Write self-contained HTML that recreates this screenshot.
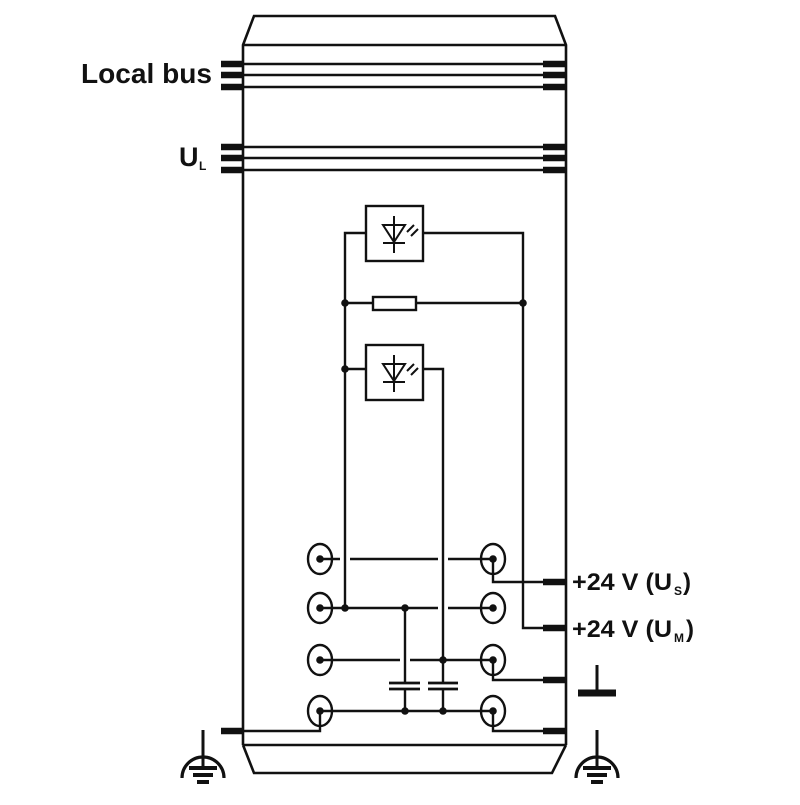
<!DOCTYPE html>
<html><head><style>
body{margin:0;background:#fff;}
svg text{font-family:"Liberation Sans",Arial,sans-serif;font-weight:bold;fill:#111;}
</style></head><body>
<svg width="800" height="800" viewBox="0 0 800 800" xmlns="http://www.w3.org/2000/svg">
<g stroke="#111" stroke-width="2.6" fill="none">
<polyline points="243,745 243,45 254,16 555,16 566,45 566,745"/>
<line x1="243" y1="45" x2="566" y2="45"/>
<polyline points="243,745 254,773 552,773 566,745"/>
<line x1="243" y1="745" x2="566" y2="745"/>
<line x1="243" y1="64" x2="566" y2="64"/><line x1="243" y1="75" x2="566" y2="75"/><line x1="243" y1="87" x2="566" y2="87"/>
<line x1="243" y1="147" x2="566" y2="147"/><line x1="243" y1="158" x2="566" y2="158"/><line x1="243" y1="170" x2="566" y2="170"/>
</g>
<g stroke="#111" stroke-width="6.5">
<line x1="221" y1="64" x2="243" y2="64"/><line x1="221" y1="75" x2="243" y2="75"/><line x1="221" y1="87" x2="243" y2="87"/>
<line x1="543" y1="64" x2="566" y2="64"/><line x1="543" y1="75" x2="566" y2="75"/><line x1="543" y1="87" x2="566" y2="87"/>
<line x1="221" y1="147" x2="243" y2="147"/><line x1="221" y1="158" x2="243" y2="158"/><line x1="221" y1="170" x2="243" y2="170"/>
<line x1="543" y1="147" x2="566" y2="147"/><line x1="543" y1="158" x2="566" y2="158"/><line x1="543" y1="170" x2="566" y2="170"/>
<line x1="543" y1="582" x2="566" y2="582"/><line x1="543" y1="628" x2="566" y2="628"/>
<line x1="543" y1="680" x2="566" y2="680"/><line x1="543" y1="731" x2="566" y2="731"/>
<line x1="221" y1="731" x2="243" y2="731"/>
</g>
<g stroke="#111" stroke-width="2.4" fill="none">
<rect x="366" y="206" width="57" height="55" fill="#fff"/>
<rect x="366" y="345" width="57" height="55" fill="#fff"/>
<polyline points="366,233 345,233 345,608"/>
<polyline points="423,233 523,233 523,628 543,628"/>
<line x1="345" y1="303" x2="373" y2="303"/><line x1="416" y1="303" x2="523" y2="303"/>
<rect x="373" y="297" width="43" height="13"/>
<line x1="345" y1="369" x2="366" y2="369"/>
<polyline points="423,369 443,369 443,683"/>
<line x1="443" y1="688" x2="443" y2="711"/>
<ellipse cx="320" cy="559" rx="12" ry="15"/><ellipse cx="320" cy="608" rx="12" ry="15"/>
<ellipse cx="320" cy="660" rx="12" ry="15"/><ellipse cx="320" cy="711" rx="12" ry="15"/>
<ellipse cx="493" cy="559" rx="12" ry="15"/><ellipse cx="493" cy="608" rx="12" ry="15"/>
<ellipse cx="493" cy="660" rx="12" ry="15"/><ellipse cx="493" cy="711" rx="12" ry="15"/>
<line x1="320" y1="559" x2="340" y2="559"/><line x1="350" y1="559" x2="438" y2="559"/><line x1="448" y1="559" x2="493" y2="559"/>
<line x1="320" y1="608" x2="438" y2="608"/><line x1="448" y1="608" x2="493" y2="608"/>
<line x1="320" y1="660" x2="400" y2="660"/><line x1="410" y1="660" x2="493" y2="660"/>
<line x1="320" y1="711" x2="493" y2="711"/>
<line x1="405" y1="608" x2="405" y2="683"/><line x1="405" y1="688" x2="405" y2="711"/>
<line x1="389" y1="683" x2="420" y2="683" stroke-width="2.8"/><line x1="389" y1="689" x2="420" y2="689" stroke-width="2.8"/>
<line x1="428" y1="683" x2="458" y2="683" stroke-width="2.8"/><line x1="428" y1="689" x2="458" y2="689" stroke-width="2.8"/>
<polyline points="493,559 493,582 543,582"/>
<polyline points="493,660 493,680 543,680"/>
<polyline points="493,711 493,731 543,731"/>
<polyline points="320,711 320,731 243,731"/>
<line x1="597" y1="665" x2="597" y2="693" stroke-width="3"/>
<line x1="203" y1="730" x2="203" y2="768" stroke-width="3"/>
<path d="M182,778 A21,21 0 0 1 224,778" stroke-width="3.2"/>
<line x1="597" y1="730" x2="597" y2="768" stroke-width="3"/>
<path d="M576,778 A21,21 0 0 1 618,778" stroke-width="3.2"/>
</g>
<g stroke="#111" stroke-width="4">
<line x1="189" y1="768" x2="217" y2="768"/><line x1="193" y1="775" x2="213" y2="775"/><line x1="197" y1="782" x2="209" y2="782"/>
<line x1="583" y1="768" x2="611" y2="768"/><line x1="587" y1="775" x2="607" y2="775"/><line x1="591" y1="782" x2="603" y2="782"/>
<line x1="578" y1="693" x2="616" y2="693" stroke-width="7"/>
</g>
<g stroke="#111" stroke-width="2" fill="none">
<g>
<polygon points="383,225 405,225 394,242"/><line x1="383" y1="243" x2="405" y2="243"/><line x1="394" y1="216" x2="394" y2="253"/>
<line x1="407" y1="232" x2="414" y2="225"/><line x1="411" y1="236" x2="418" y2="229"/>
</g>
<g transform="translate(0,139)">
<polygon points="383,225 405,225 394,242"/><line x1="383" y1="243" x2="405" y2="243"/><line x1="394" y1="216" x2="394" y2="253"/>
<line x1="407" y1="232" x2="414" y2="225"/><line x1="411" y1="236" x2="418" y2="229"/>
</g>
</g>
<g fill="#111">
<circle cx="345" cy="303" r="3.8"/><circle cx="523" cy="303" r="3.8"/><circle cx="345" cy="369" r="3.8"/>
<circle cx="345" cy="608" r="3.8"/><circle cx="405" cy="608" r="3.8"/><circle cx="443" cy="660" r="3.8"/>
<circle cx="405" cy="711" r="3.8"/><circle cx="443" cy="711" r="3.8"/>
<circle cx="320" cy="559" r="3.8"/><circle cx="320" cy="608" r="3.8"/><circle cx="320" cy="660" r="3.8"/><circle cx="320" cy="711" r="3.8"/>
<circle cx="493" cy="559" r="3.8"/><circle cx="493" cy="608" r="3.8"/><circle cx="493" cy="660" r="3.8"/><circle cx="493" cy="711" r="3.8"/>
</g>
<text x="81" y="83" font-size="27.5" textLength="131" lengthAdjust="spacingAndGlyphs">Local bus</text>
<text x="179" y="166" font-size="27">U</text><text x="199" y="170" font-size="12">L</text>
<text x="572" y="590" font-size="24" textLength="100" lengthAdjust="spacingAndGlyphs">+24 V (U</text><text x="674" y="595" font-size="12">S</text><text x="683" y="590" font-size="24">)</text>
<text x="572" y="637" font-size="24" textLength="100" lengthAdjust="spacingAndGlyphs">+24 V (U</text><text x="674" y="642" font-size="12">M</text><text x="686" y="637" font-size="24">)</text>
</svg>
</body></html>
